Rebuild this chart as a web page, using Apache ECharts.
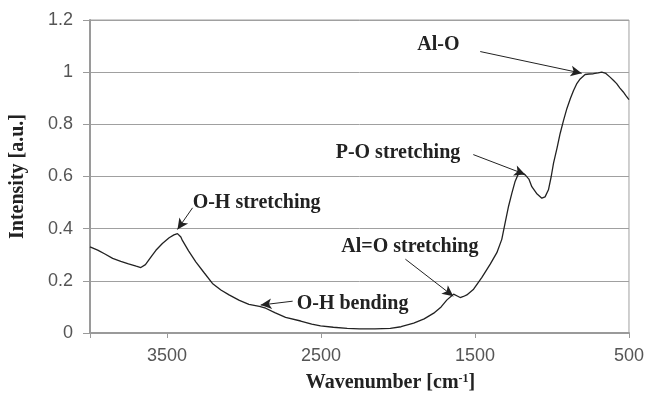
<!DOCTYPE html>
<html>
<head>
<meta charset="utf-8">
<script src="https://cdn.jsdelivr.net/npm/echarts@6/dist/echarts.min.js"></script>
<style>
  html, body { margin: 0; padding: 0; background: #fff; }
  #chart { width: 647px; height: 398px; }
</style>
</head>
<body>
<div id="chart"></div>
<script>
// spectrum: wavenumber (cm-1) and intensity (a.u.)
var wavenumbers = [
  4000, 3950, 3900, 3853, 3800, 3750, 3700, 3670, 3640, 3600, 3572, 3530, 3486, 3455, 3432,
  3410, 3400, 3360, 3313, 3260, 3205, 3150, 3097, 3030, 2968, 2900, 2859, 2800, 2730, 2632,
  2560, 2503, 2420, 2330, 2250, 2150, 2050, 1980, 1898, 1830, 1768, 1720, 1682, 1639, 1615,
  1596, 1575, 1553, 1509, 1455, 1401, 1358, 1326, 1304, 1282, 1260, 1239, 1217, 1195, 1174,
  1150, 1131, 1100, 1066, 1045, 1023, 1005, 990, 967, 947, 925, 903, 880, 860, 840,
  817, 785, 760, 731, 700, 677, 650, 623, 600, 580, 560, 537, 520, 500
];
var intensity = [
  0.330, 0.318, 0.302, 0.286, 0.275, 0.265, 0.256, 0.251, 0.262, 0.295, 0.317, 0.343, 0.365, 0.376, 0.381,
  0.368, 0.355, 0.315, 0.273, 0.232, 0.190, 0.165, 0.146, 0.125, 0.110, 0.102, 0.095, 0.078, 0.060, 0.046,
  0.034, 0.027, 0.022, 0.018, 0.016, 0.016, 0.018, 0.024, 0.038, 0.054, 0.076, 0.100, 0.127, 0.149, 0.142,
  0.136, 0.140, 0.146, 0.168, 0.213, 0.264, 0.308, 0.359, 0.423, 0.486, 0.537, 0.582, 0.612, 0.612, 0.606,
  0.590, 0.561, 0.535, 0.517, 0.522, 0.549, 0.600, 0.651, 0.710, 0.765, 0.815, 0.861, 0.900, 0.930, 0.955,
  0.974, 0.991, 0.993, 0.994, 0.997, 1.000, 0.995, 0.981, 0.968, 0.956, 0.940, 0.924, 0.910, 0.895
];

// annotations: text position, arrow start, arrow tip (data coords)
var noteNames = ['Al-O', 'P-O stretching', 'Al=O stretching', 'O-H bending', 'O-H stretching'];
var noteText = [[1738, 1.104], [2000, 0.692], [1923, 0.329], [2295, 0.111], [2918, 0.5]];
var arrowFrom = [[1466, 1.079], [1511, 0.684], [1952, 0.283], [2684, 0.122], [3334, 0.48]];
var arrowTo = [[807, 0.996], [1174, 0.608], [1641, 0.141], [2892, 0.107], [3432, 0.397]];

var yTicks = [0, 0.2, 0.4, 0.6, 0.8, 1, 1.2];

var points = wavenumbers.map(function (w, i) { return [w, intensity[i]]; });
var serif = '"Liberation Serif", "DejaVu Serif", serif';
var sans = '"Liberation Sans", Arial, sans-serif';

var chart = echarts.init(document.getElementById('chart'));
chart.setOption({
  animation: false,
  grid: {
    left: 89, right: 18, top: 20, bottom: 64,
    show: true, borderColor: '#a0a0a0', borderWidth: 1
  },
  xAxis: {
    type: 'value',
    inverse: true,
    min: 500,
    max: 4000,
    interval: 1000,
    name: '{t|Wavenumber [cm}{s|-1}{t|]}',
    nameLocation: 'middle',
    nameGap: 40,
    nameTextStyle: {
      padding: [0, 0, 0, 62],
      rich: {
        t: { fontFamily: serif, fontWeight: 'bold', fontSize: 20, color: '#222' },
        s: { fontFamily: serif, fontWeight: 'bold', fontSize: 12, color: '#222', verticalAlign: 'top', padding: [0, 0, 8, 0] }
      }
    },
    axisLine: { onZero: false, lineStyle: { color: '#9a9a9a', width: 2 } },
    axisTick: { show: true, length: 5, lineStyle: { color: '#9a9a9a' } },
    axisLabel: {
      margin: 14,
      fontFamily: sans, fontSize: 18, color: '#555',
      formatter: function (v) { return v === 4000 ? '' : String(v); }
    },
    splitLine: { show: false }
  },
  yAxis: {
    type: 'value',
    min: yTicks[0],
    max: yTicks[yTicks.length - 1],
    interval: 0.2,
    name: 'Intensity [a.u.]',
    nameLocation: 'middle',
    nameGap: 62,
    nameTextStyle: { fontFamily: serif, fontWeight: 'bold', fontSize: 20, color: '#222' },
    axisLine: { show: true, lineStyle: { color: '#9a9a9a', width: 2 } },
    axisTick: { show: true, length: 7, lineStyle: { color: '#9a9a9a' } },
    axisLabel: {
      margin: 17,
      fontFamily: sans, fontSize: 18, color: '#555',
      formatter: function (v) { return String(Math.round(v * 10) / 10); }
    },
    splitLine: { show: true, lineStyle: { color: '#a0a0a0', width: 1 } }
  },
  series: [{
    type: 'line',
    data: points,
    showSymbol: false,
    lineStyle: { color: '#222', width: 1.3 },
    markLine: {
      silent: true,
      symbol: ['none', 'arrow'],
      symbolSize: [8, 11],
      label: { show: false },
      lineStyle: { color: '#222', width: 1, type: 'solid' },
      data: arrowFrom.map(function (p, i) { return [{ coord: p }, { coord: arrowTo[i] }]; })
    },
    markPoint: {
      silent: true,
      symbol: 'circle',
      symbolSize: 0,
      label: {
        show: true,
        position: 'inside',
        formatter: '{b}',
        fontFamily: serif, fontWeight: 'bold', fontSize: 20, color: '#222'
      },
      data: noteText.map(function (p, i) { return { name: noteNames[i], coord: p }; })
    }
  }]
});
</script>
</body>
</html>
